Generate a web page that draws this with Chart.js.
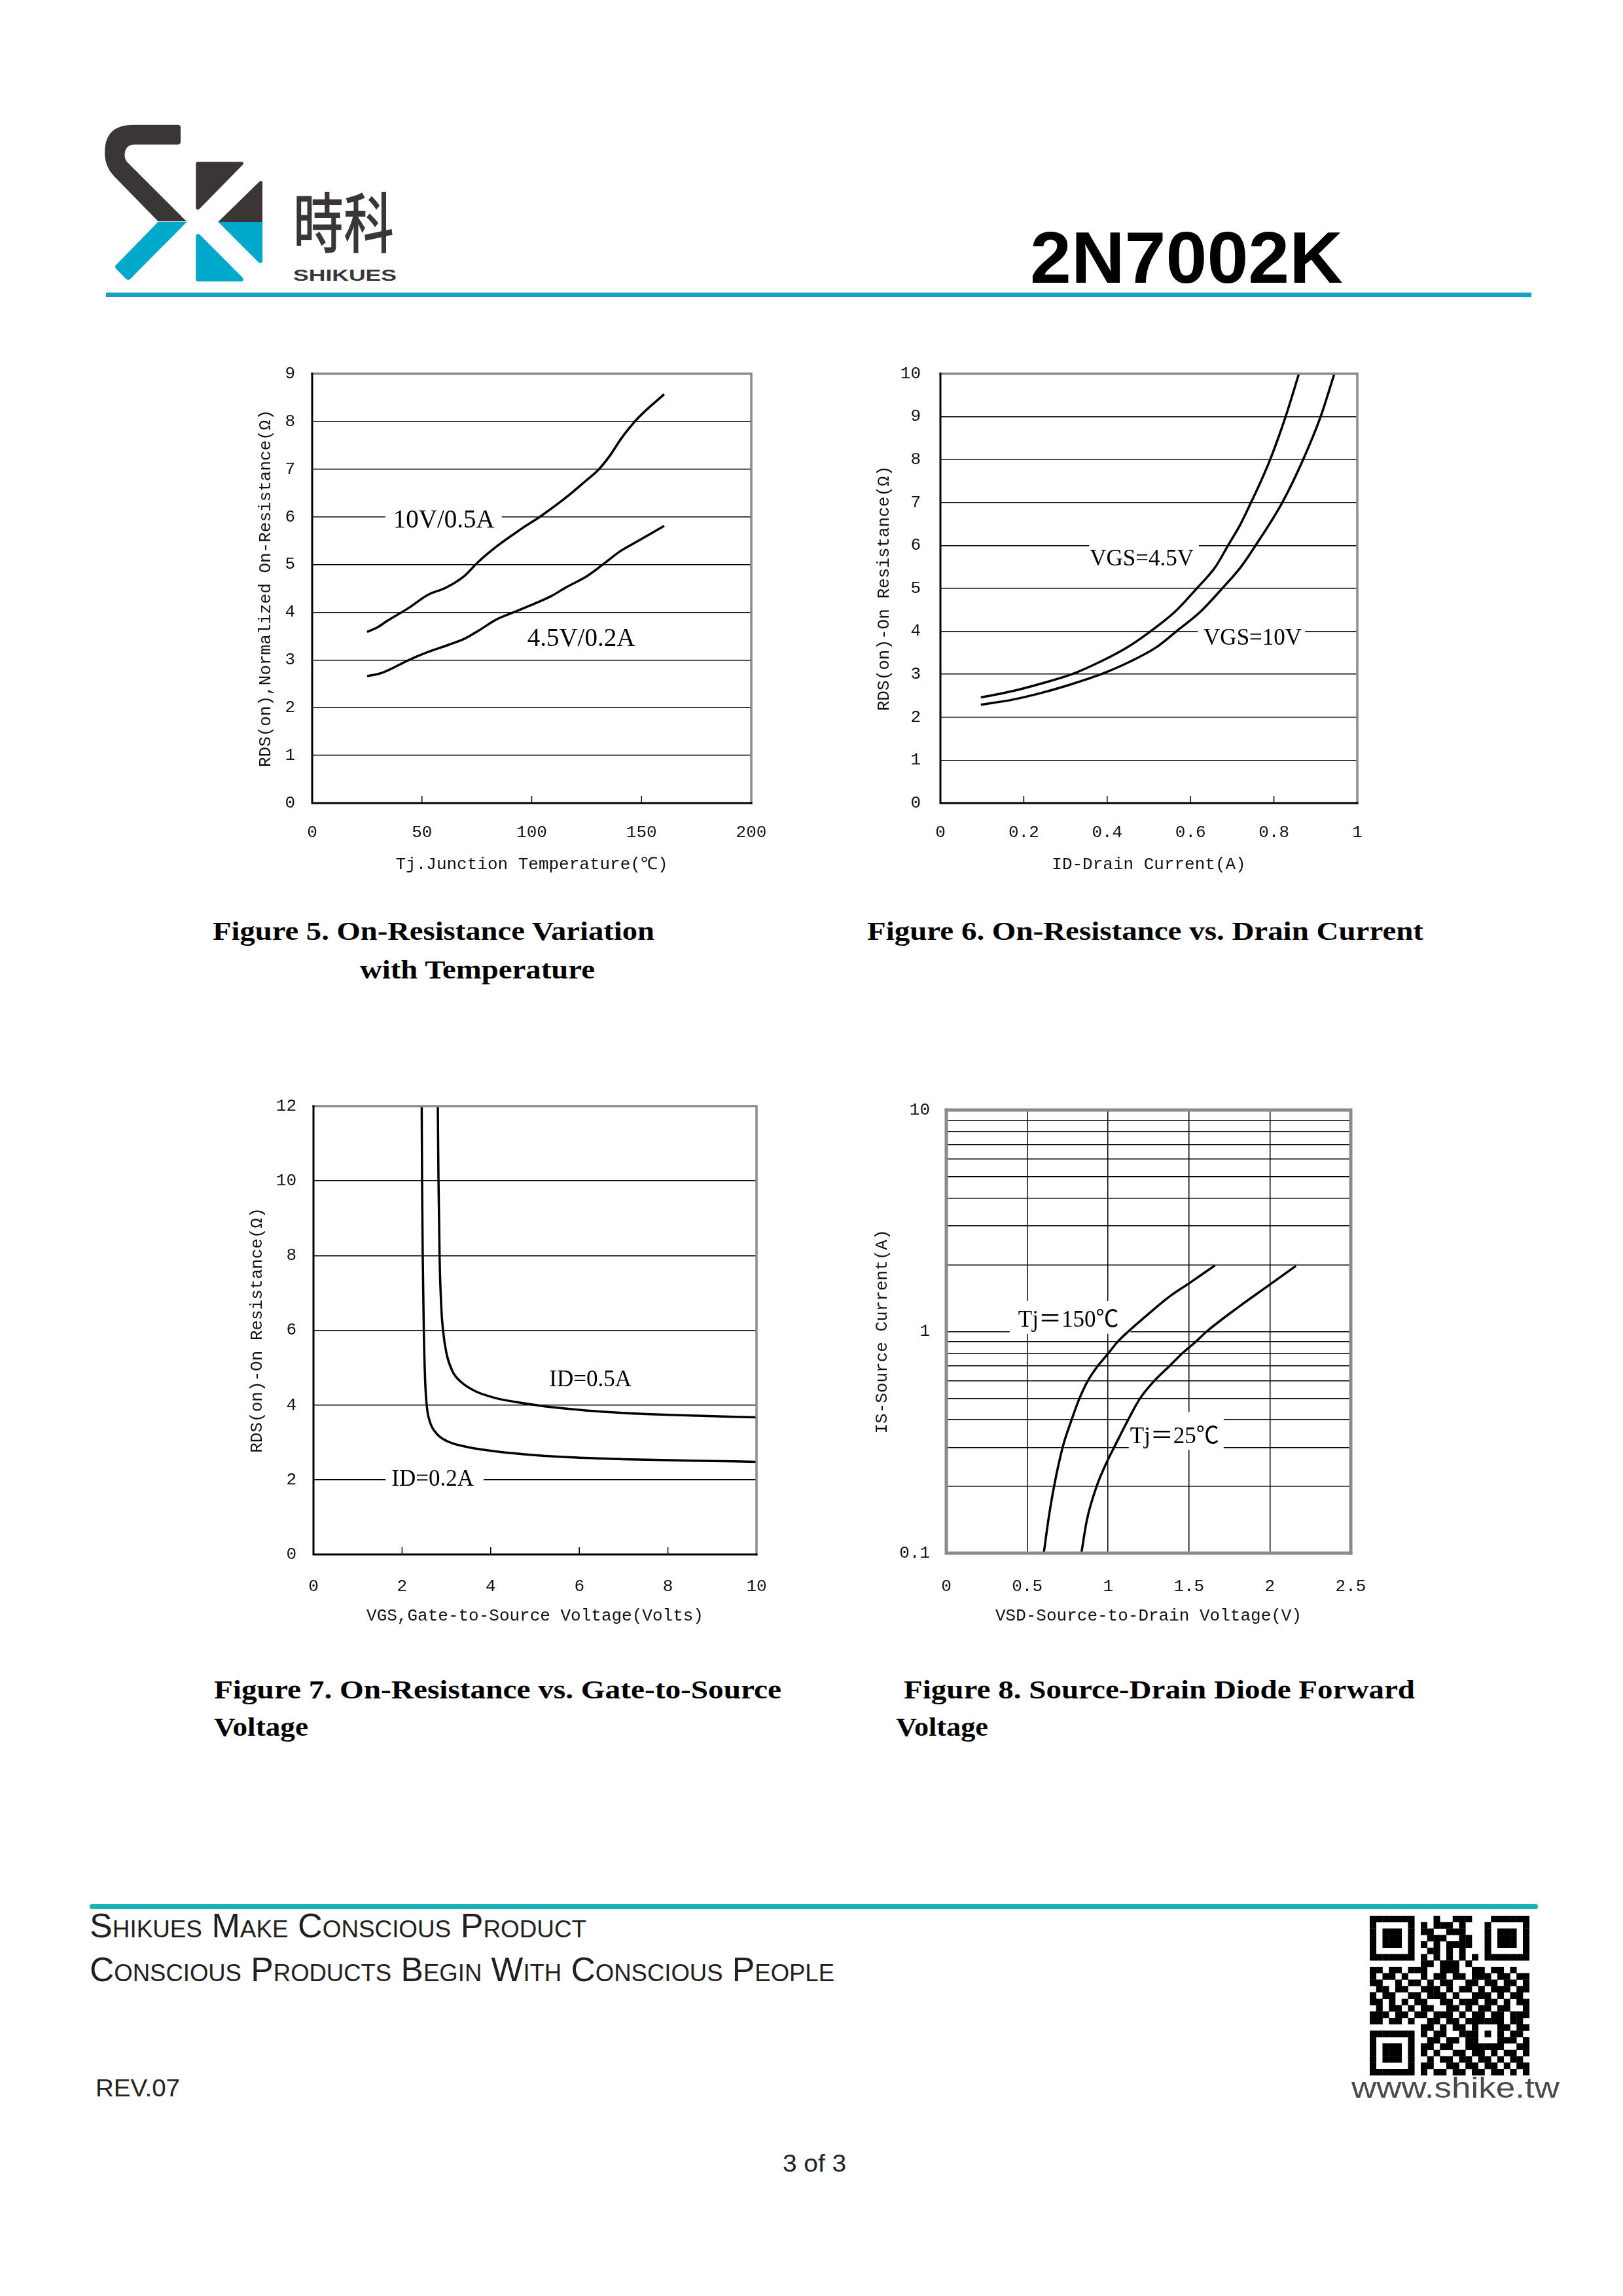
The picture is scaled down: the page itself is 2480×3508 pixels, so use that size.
<!DOCTYPE html>
<html>
<head>
<meta charset="utf-8">
<title>2N7002K typical characteristics</title>
<script src="https://cdn.jsdelivr.net/npm/chart.js@4.4.1/dist/chart.umd.min.js"></script>
<style>
  html, body { margin: 0; padding: 0; background: #fff; }
  #page { position: relative; width: 2480px; height: 3508px; overflow: hidden; background: #fff; }
  #page svg { position: absolute; left: 0; top: 0; }
  #page canvas { position: absolute; }
</style>
</head>
<body>
<div id="page">
  <svg id="deco" width="2480" height="3508" xmlns="http://www.w3.org/2000/svg">
    <!-- logo -->
    <g transform="translate(140,170) scale(0.3333)">
      <path fill="#3a3636" d="M408,75 Q408,62 395,62 L190,62 Q60,62 60,190 Q60,250 100,295 L305,505 L435,505 L162,232 Q150,218 152,195 Q155,152 200,152 L395,152 Q408,152 408,140 Z"/>
      <path fill="#00a8cc" d="M305,507 L437,507 L178,768 Q168,778 158,768 L112,722 Q104,712 112,704 Z"/>
      <path fill="#3a3636" d="M478,240 Q478,232 488,232 L690,232 Q700,234 693,245 L495,447 Q480,458 478,440 Z"/>
      <path fill="#00a8cc" d="M478,575 Q480,557 495,565 L693,763 Q700,778 688,780 L488,780 Q478,780 478,770 Z"/>
      <path fill="#3a3636" d="M580,507 L770,322 Q783,315 783,330 L783,507 Z"/>
      <path fill="#00a8cc" d="M580,507 L783,507 L783,688 Q780,700 768,695 Z"/>
    </g>
    <text x="448" y="378" font-family="'Noto Sans CJK TC','Noto Sans CJK SC',sans-serif" font-size="100" font-weight="500" fill="#3a3636" textLength="154" lengthAdjust="spacingAndGlyphs">時科</text>
    <text x="448" y="429" font-family="'Liberation Sans',Arial,sans-serif" font-size="24" font-weight="bold" fill="#3a3636" textLength="158" lengthAdjust="spacingAndGlyphs">SHIKUES</text>
    <text x="1574" y="432" font-family="'Liberation Sans',Arial,sans-serif" font-size="112" font-weight="bold" fill="#000" textLength="478" lengthAdjust="spacingAndGlyphs">2N7002K</text>
    <rect x="162" y="447" width="2178" height="7" fill="#17a0c6"/>

    <!-- captions -->
    <g font-family="'Liberation Serif','Times New Roman',serif" font-size="40" font-weight="bold" fill="#000">
      <text x="325" y="1436" textLength="675" lengthAdjust="spacingAndGlyphs">Figure 5.  On-Resistance Variation</text>
      <text x="550" y="1495" textLength="359" lengthAdjust="spacingAndGlyphs">with Temperature</text>
      <text x="1325" y="1436" textLength="850" lengthAdjust="spacingAndGlyphs">Figure 6.  On-Resistance vs. Drain Current</text>
      <text x="327" y="2595" textLength="867" lengthAdjust="spacingAndGlyphs">Figure 7.   On-Resistance vs. Gate-to-Source</text>
      <text x="327" y="2652" textLength="144" lengthAdjust="spacingAndGlyphs">Voltage</text>
      <text x="1381" y="2595" textLength="781" lengthAdjust="spacingAndGlyphs">Figure 8.   Source-Drain Diode Forward</text>
      <text x="1369" y="2652" textLength="141" lengthAdjust="spacingAndGlyphs">Voltage</text>
    </g>

    <!-- footer -->
    <rect x="137" y="2909" width="2213" height="8" rx="4" fill="#1ab2b4"/>
    <g font-family="'Liberation Sans Narrow','Liberation Sans',Arial,sans-serif" fill="#231f20" style="font-variant: small-caps">
      <text x="137" y="2960" font-size="51" textLength="759" lengthAdjust="spacingAndGlyphs">Shikues Make Conscious Product</text>
      <text x="137" y="3027" font-size="51" textLength="1138" lengthAdjust="spacingAndGlyphs">Conscious Products Begin With Conscious People</text>
    </g>
    <g font-family="'Liberation Sans Narrow','Liberation Sans',Arial,sans-serif" font-size="36" fill="#222">
      <text x="146" y="3203" textLength="129" lengthAdjust="spacingAndGlyphs">REV.07</text>
      <text x="1196" y="3318" textLength="97" lengthAdjust="spacingAndGlyphs">3 of 3</text>
    </g>
    <text x="2065" y="3205" font-family="'Liberation Sans',Arial,sans-serif" font-size="44" fill="#4a4a4a" textLength="318" lengthAdjust="spacingAndGlyphs">www.shike.tw</text>
    <g id="qr" fill="#000"></g>
  </svg>
  <canvas id="fig5"></canvas>
  <canvas id="fig6"></canvas>
  <canvas id="fig7"></canvas>
  <canvas id="fig8"></canvas>
</div>

<script>
// ---- Figure 5: RDS(on) vs junction temperature ----
const fig5TempA = [25, 29.6, 34.2, 43.6, 52.9, 60.7, 69.3, 75.5, 84, 95, 104.3, 115.2, 124.5, 130, 135.4, 140.9, 148.6, 160.3];
const fig5Rds10V = [3.59, 3.68, 3.82, 4.08, 4.37, 4.51, 4.76, 5.05, 5.38, 5.74, 6.02, 6.39, 6.75, 6.97, 7.27, 7.65, 8.08, 8.57];
const fig5TempB = [25, 31.1, 35.8, 43.6, 52.9, 62.3, 70, 76.3, 84, 91.8, 101.2, 109, 115.2, 125.3, 133.8, 140, 147.9, 160.3];
const fig5Rds45V = [2.66, 2.72, 2.81, 2.99, 3.17, 3.32, 3.46, 3.63, 3.85, 4.0, 4.18, 4.34, 4.51, 4.76, 5.05, 5.27, 5.48, 5.81];
const fig5XTicks = [0, 50, 100, 150, 200];
const fig5YTicks = [0, 1, 2, 3, 4, 5, 6, 7, 8, 9];

// ---- Figure 6: RDS(on) vs drain current ----
const fig6IdA = [0.097, 0.174, 0.244, 0.315, 0.385, 0.447, 0.504, 0.562, 0.615, 0.659, 0.69, 0.72, 0.745, 0.769, 0.791, 0.828, 0.86];
const fig6Rds45V = [2.46, 2.61, 2.79, 3.0, 3.3, 3.62, 4.0, 4.45, 5.0, 5.49, 6.0, 6.5, 7.0, 7.5, 8.0, 9.0, 10];
const fig6IdB = [0.097, 0.174, 0.244, 0.315, 0.385, 0.456, 0.518, 0.566, 0.623, 0.676, 0.72, 0.756, 0.82, 0.87, 0.912, 0.945];
const fig6Rds10V = [2.29, 2.41, 2.57, 2.77, 3.0, 3.3, 3.63, 4.0, 4.45, 5.0, 5.49, 6.0, 7.0, 8.0, 9.0, 10];
const fig6XTicks = [0, 0.2, 0.4, 0.6, 0.8, 1];
const fig6YTicks = [0, 1, 2, 3, 4, 5, 6, 7, 8, 9, 10];

// ---- Figure 7: RDS(on) vs gate-to-source voltage ----
const fig7VgsA = [2.806, 2.822, 2.846, 2.885, 2.925, 3.004, 3.138, 3.336, 3.652, 4.126, 4.68, 5.39, 6.18, 6.97, 8.16, 10];
const fig7Rds05A = [12, 10, 8, 6.61, 5.99, 5.37, 4.9, 4.61, 4.37, 4.18, 4.06, 3.94, 3.85, 3.79, 3.73, 3.67];
const fig7VgsB = [2.443, 2.451, 2.466, 2.49, 2.522, 2.561, 2.625, 2.783, 3.02, 3.415, 3.968, 4.759, 5.787, 6.97, 8.55, 10];
const fig7Rds02A = [12, 10, 8, 5.99, 4.61, 3.94, 3.56, 3.23, 3.03, 2.89, 2.78, 2.68, 2.6, 2.55, 2.51, 2.48];
const fig7XTicks = [0, 2, 4, 6, 8, 10];
const fig7YTicks = [0, 2, 4, 6, 8, 10, 12];

// ---- Figure 8: source-drain diode forward voltage ----
const fig8Vsd150 = [0.6025, 0.632, 0.666, 0.72, 0.774, 0.821, 0.875, 0.936, 1.0, 1.057, 1.124, 1.219, 1.38, 1.5, 1.661];
const fig8Is150 = [0.1, 0.143, 0.2, 0.302, 0.399, 0.495, 0.6, 0.699, 0.795, 0.896, 1.0, 1.15, 1.44, 1.65, 1.99];
const fig8Vsd25 = [0.835, 0.868, 0.929, 1.0, 1.037, 1.124, 1.198, 1.286, 1.38, 1.461, 1.542, 1.609, 1.812, 2.0, 2.161];
const fig8Is25 = [0.1, 0.14, 0.2, 0.265, 0.3, 0.4, 0.5, 0.6, 0.7, 0.8, 0.9, 1.0, 1.3, 1.63, 1.98];
const fig8XTicks = [0, 0.5, 1, 1.5, 2, 2.5];
const fig8YGrid = [0.1, 0.2, 0.3, 0.4, 0.5, 0.6, 0.7, 0.8, 0.9, 1, 2, 3, 4, 5, 6, 7, 8, 9, 10];
const fig8YLabels = [0.1, 1, 10];

const MONO = "'Liberation Mono', 'DejaVu Sans Mono', monospace";
const SERIF = "'Liberation Serif', 'Times New Roman', 'Noto Sans CJK SC', serif";
const TITLE_SIZE = 26;
const TICK_SIZE = 26;

// plot rectangles measured from the page
const layoutBoxes = {
  fig5: { L: 477, T: 571, R: 1148, B: 1227, yTitle: 407, xTitle: 1321, yPad: 26, xPad: 30 },
  fig6: { L: 1437, T: 571, R: 2074, B: 1227, yTitle: 1352, xTitle: 1321, yPad: 30, xPad: 30 },
  fig7: { L: 479, T: 1690, R: 1156, B: 2375, yTitle: 394, xTitle: 2469, yPad: 26, xPad: 34 },
  fig8: { L: 1446, T: 1696, R: 2064, B: 2373, yTitle: 1349, xTitle: 2469, yPad: 25, xPad: 36 }
};

function fmt(v) {
  return String(Math.round(v * 100) / 100);
}

function curve(xs, ys) {
  return {
    data: xs.map((x, i) => ({ x: x, y: ys[i] })),
    borderColor: '#000',
    borderWidth: 3.5,
    pointRadius: 0,
    fill: false,
    cubicInterpolationMode: 'monotone'
  };
}

// frame: black axes left/bottom, gray top/right (or gray all round), small inner x ticks
function framePlugin(spec) {
  return {
    id: 'frame',
    afterDatasetsDraw(chart) {
      const { ctx, chartArea: a } = chart;
      ctx.save();
      if (spec.innerTicks) {
        ctx.strokeStyle = '#000';
        ctx.lineWidth = 1.5;
        spec.innerTicks.forEach(v => {
          const px = chart.scales.x.getPixelForValue(v);
          ctx.beginPath();
          ctx.moveTo(px, a.bottom);
          ctx.lineTo(px, a.bottom - 11);
          ctx.stroke();
        });
      }
      ctx.lineCap = 'square';
      ctx.strokeStyle = spec.edgeColor;
      ctx.lineWidth = spec.edgeWidth;
      ctx.beginPath();
      ctx.moveTo(a.left, a.top);
      ctx.lineTo(a.right, a.top);
      ctx.lineTo(a.right, a.bottom);
      ctx.stroke();
      ctx.strokeStyle = spec.axisColor;
      ctx.lineWidth = spec.axisWidth;
      ctx.beginPath();
      ctx.moveTo(a.left, a.top);
      ctx.lineTo(a.left, a.bottom);
      ctx.lineTo(a.right, a.bottom);
      ctx.stroke();
      ctx.restore();
    }
  };
}

// curve labels with a white patch behind them, placed in data units
// pad = [left, right, up, down] around the measured text
function notesPlugin(notes) {
  return {
    id: 'notes',
    beforeDatasetsDraw(chart) {
      const ctx = chart.ctx;
      ctx.save();
      notes.forEach(n => {
        const px = chart.scales.x.getPixelForValue(n.at[0]);
        const py = chart.scales.y.getPixelForValue(n.at[1]);
        ctx.font = n.size + 'px ' + SERIF;
        const w = ctx.measureText(n.text).width;
        ctx.fillStyle = '#fff';
        ctx.fillRect(px - w / 2 - n.pad[0], py - n.pad[2], w + n.pad[0] + n.pad[1], n.pad[2] + n.pad[3]);
        ctx.fillStyle = '#000';
        ctx.textAlign = 'center';
        ctx.textBaseline = 'middle';
        ctx.fillText(n.text, px, py);
      });
      ctx.restore();
    }
  };
}

function buildChart(id, spec) {
  const g = layoutBoxes[id];
  const lh = TITLE_SIZE * 1.2;
  const padTop = 64, padRight = 70;
  const left = Math.round(g.yTitle - lh / 2);
  const top = g.T - padTop;
  const width = g.R + padRight - left;
  const height = Math.round(g.xTitle + lh / 2) - top;
  const yW = g.L - left;
  const xH = top + height - g.B;

  const canvas = document.getElementById(id);
  canvas.style.left = left + 'px';
  canvas.style.top = top + 'px';
  canvas.width = width;
  canvas.height = height;

  const yLabelSet = spec.yLabels || spec.yTicks;

  return new Chart(canvas.getContext('2d'), {
    type: 'line',
    data: { datasets: spec.series },
    options: {
      responsive: false,
      animation: false,
      devicePixelRatio: 1,
      layout: { padding: { top: padTop, right: padRight, left: 0, bottom: 0 } },
      plugins: { legend: { display: false }, tooltip: { enabled: false } },
      scales: {
        x: {
          type: 'linear',
          min: spec.xTicks[0],
          max: spec.xTicks[spec.xTicks.length - 1],
          afterBuildTicks: s => { s.ticks = spec.xTicks.map(v => ({ value: v })); },
          afterFit: s => { s.height = xH; },
          grid: { display: !!spec.xGrid, color: '#000', lineWidth: 1.5, drawTicks: false },
          border: { display: false },
          ticks: {
            padding: g.xPad, autoSkip: false, maxRotation: 0,
            color: '#111', font: { family: MONO, size: TICK_SIZE },
            callback: v => fmt(v)
          },
          title: {
            display: true, text: spec.xTitle, padding: 0,
            color: '#111', font: { family: MONO, size: TITLE_SIZE }
          }
        },
        y: {
          type: spec.yType || 'linear',
          min: spec.yTicks[0],
          max: spec.yTicks[spec.yTicks.length - 1],
          afterBuildTicks: s => { s.ticks = spec.yTicks.map(v => ({ value: v })); },
          afterFit: s => { s.width = yW; },
          grid: { color: '#000', lineWidth: 1.5, drawTicks: false },
          border: { display: false },
          ticks: {
            padding: g.yPad, autoSkip: false,
            color: '#111', font: { family: MONO, size: TICK_SIZE },
            callback: v => yLabelSet.some(t => Math.abs(t - v) < 1e-9) ? fmt(v) : ''
          },
          title: {
            display: true, text: spec.yTitle, padding: 0,
            color: '#111', font: { family: MONO, size: TITLE_SIZE }
          }
        }
      }
    },
    plugins: [framePlugin(spec.frame), notesPlugin(spec.notes)]
  });
}

const grayFrame = { edgeColor: '#8c8c8c', edgeWidth: 3.5, axisColor: '#000', axisWidth: 3 };

buildChart('fig5', {
  series: [curve(fig5TempA, fig5Rds10V), curve(fig5TempB, fig5Rds45V)],
  xTicks: fig5XTicks, yTicks: fig5YTicks,
  xTitle: 'Tj.Junction Temperature(℃)',
  yTitle: 'RDS(on),Normalized On-Resistance(Ω)',
  frame: Object.assign({ innerTicks: fig5XTicks.slice(1, -1) }, grayFrame),
  notes: [
    { text: '10V/0.5A', at: [60, 5.91], size: 39, pad: [12, 11, 22, 20] },
    { text: '4.5V/0.2A', at: [122.5, 3.43], size: 39, pad: [4, 4, 20, 20] }
  ]
});

buildChart('fig6', {
  series: [curve(fig6IdA, fig6Rds45V), curve(fig6IdB, fig6Rds10V)],
  xTicks: fig6XTicks, yTicks: fig6YTicks,
  xTitle: 'ID-Drain Current(A)',
  yTitle: 'RDS(on)-On Resistance(Ω)',
  frame: Object.assign({ innerTicks: fig6XTicks.slice(1, -1) }, grayFrame),
  notes: [
    { text: 'VGS=4.5V', at: [0.483, 5.67], size: 35, pad: [1, 8, 26, 18] },
    { text: 'VGS=10V', at: [0.749, 3.83], size: 35, pad: [9, 5, 20, 18] }
  ]
});

buildChart('fig7', {
  series: [curve(fig7VgsA, fig7Rds05A), curve(fig7VgsB, fig7Rds02A)],
  xTicks: fig7XTicks, yTicks: fig7YTicks,
  xTitle: 'VGS,Gate-to-Source Voltage(Volts)',
  yTitle: 'RDS(on)-On Resistance(Ω)',
  frame: Object.assign({ innerTicks: fig7XTicks.slice(1, -1) }, grayFrame),
  notes: [
    { text: 'ID=0.5A', at: [6.25, 4.66], size: 35, pad: [4, 4, 18, 18] },
    { text: 'ID=0.2A', at: [2.69, 2.0], size: 35, pad: [9, 15, 18, 18] }
  ]
});

buildChart('fig8', {
  series: [curve(fig8Vsd150, fig8Is150), curve(fig8Vsd25, fig8Is25)],
  xTicks: fig8XTicks, yTicks: fig8YGrid, yLabels: fig8YLabels, yType: 'logarithmic',
  xGrid: true,
  xTitle: 'VSD-Source-to-Drain Voltage(V)',
  yTitle: 'IS-Source Current(A)',
  frame: { edgeColor: '#8a8a8a', edgeWidth: 5, axisColor: '#8a8a8a', axisWidth: 5 },
  notes: [
    { text: 'Tj＝150℃', at: [0.755, 1.12], size: 35, pad: [13, 18, 30, 20] },
    { text: 'Tj＝25℃', at: [1.411, 0.3345], size: 35, pad: [2, 7, 38, 20] }
  ]
});

// QR code block in the footer
const qrRows = [
  '1111111000100111000111111',
  '1000001010111010001000001',
  '1011101011001110001011101',
  '1011101001110011001011101',
  '1011101010101111001011101',
  '1000001001101010001000001',
  '1111111010101010101111111',
  '0000000011011101000000000',
  '1101101110011100110110100',
  '1011010010110110111011011',
  '1100101101011001101101101',
  '0110110011101011010111011',
  '1011001101110100111010110',
  '1101010110011011101101011',
  '0101101011001101011011001',
  '1110110110111010110110111',
  '1101101001101101111110110',
  '0000000011010110100011011',
  '1111111010110011101010110',
  '1000001001101101100011101',
  '1011101011011001111110011',
  '1011101010100110110101101',
  '1011101001011011011010110',
  '1000001011001101101101011',
  '1111111010110110110110101'
];
(function drawQr() {
  const ox = 2093, oy = 2927, m = 9.75;
  let html = '';
  qrRows.forEach((row, r) => {
    for (let c = 0; c < row.length; c++) {
      if (row[c] === '1') {
        html += '<rect x="' + (ox + c * m).toFixed(2) + '" y="' + (oy + r * m).toFixed(2) +
          '" width="' + (m + 0.3) + '" height="' + (m + 0.3) + '"/>';
      }
    }
  });
  document.getElementById('qr').innerHTML = html;
})();
</script>
</body>
</html>
